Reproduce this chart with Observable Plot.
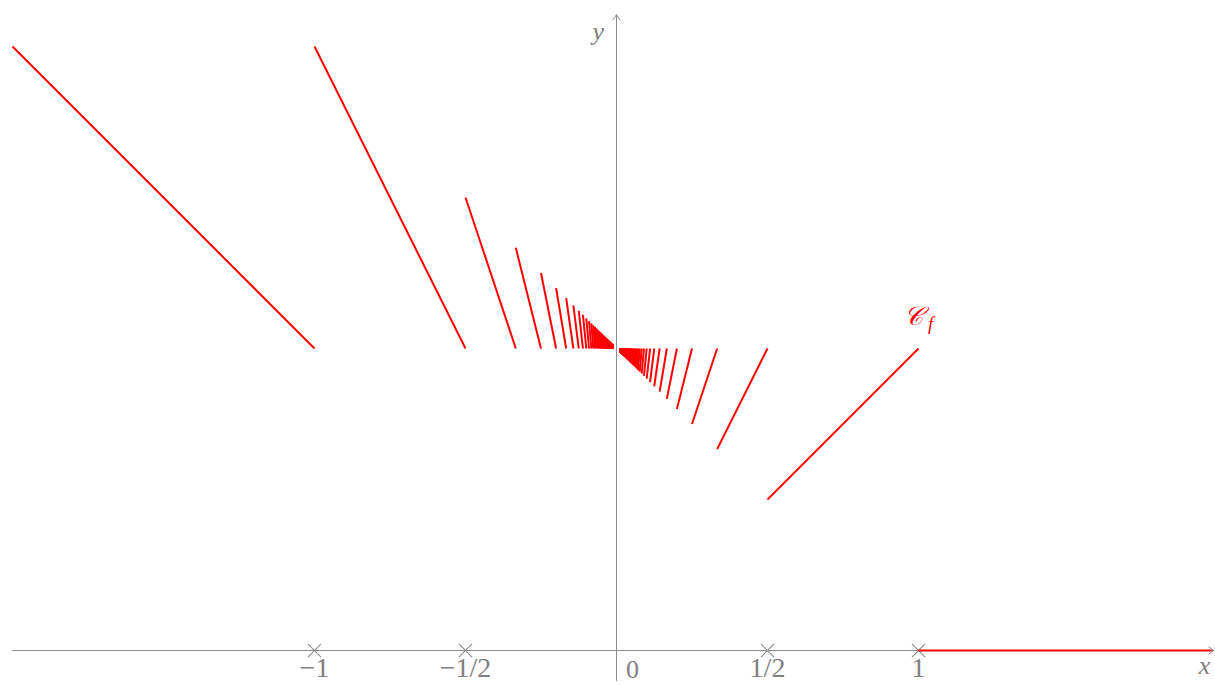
<!DOCTYPE html>
<html>
<head>
<meta charset="utf-8">
<script src="https://cdn.jsdelivr.net/npm/d3@7"></script>
<script src="https://cdn.jsdelivr.net/npm/@observablehq/plot@0.6"></script>
<style>
  html, body { margin: 0; padding: 0; background: #fff; }
  #chart svg { display: block; }
</style>
</head>
<body>
<div id="chart"></div>
<script>
// Denominators n of the breakpoints ±1/n of f(x) = x·⌊1/x⌋ (as many as drawn in the picture)
const denominators = [1,2,3,4,5,6,7,8,9,10,11,12,13,14,15,16,17,18,19,20,
  21,22,23,24,25,26,27,28,29,30,31,32,33,34,35,36,37,38,39,40,
  41,42,43,44,45,46,47,48,49,50,51,52,53,54,55,56,57,58,59,60,
  61,62,63,64,65,66,67,68,69,70,71,72,73,74,75,76,77,78,79,80];
// Outer pieces
const leftPiece = {x1: -2, y1: 2, x2: -1, y2: 1};
const rightPiece = {x1: 1, y1: 0, x2: 1.97, y2: 0};
// Axis ticks
const tickValues = [-1, -0.5, 0.5, 1];
const tickLabels = ["\u22121", "\u22121/2", "1/2", "1"];
// Axis extents
const xAxisExtent = [-2, 1.978];
const yAxisExtent = [-0.1, 2.105];

const segments = [leftPiece, rightPiece];
for (const n of denominators) {
  // negative side: on (-1/n, -1/(n+1)], f(x) = -(n+1)·x
  const a = -1 / n, b = -1 / (n + 1);
  segments.push({x1: a, y1: -(n + 1) * a, x2: b, y2: -(n + 1) * b});
  // positive side: on (1/(n+1), 1/n], f(x) = n·x
  const c = 1 / (n + 1), d = 1 / n;
  segments.push({x1: c, y1: n * c, x2: d, y2: n * d});
}

const gray = "#8c8c8c";
const textGray = "#808080";
const serif = "'Liberation Serif', 'DejaVu Serif', serif";

const plot = Plot.plot({
  width: 1215,
  height: 685,
  margin: 0,
  x: {domain: [-2, 2], range: [12, 1220], axis: null},
  y: {domain: [0, 2], range: [650, 46], axis: null},
  style: {background: "#fff", overflow: "visible"},
  marks: [
    // axes
    Plot.arrow([0], {x1: xAxisExtent[0], y1: 0, x2: xAxisExtent[1], y2: 0, stroke: gray, strokeWidth: 1, headLength: 9, headAngle: 70}),
    Plot.arrow([0], {x1: 0, y1: yAxisExtent[0], x2: 0, y2: yAxisExtent[1], stroke: gray, strokeWidth: 1, headLength: 9, headAngle: 70}),
    Plot.dot(tickValues, {x: d => d, y: 0, symbol: "times", r: 6, stroke: gray, strokeWidth: 1.1}),
    Plot.text(tickValues, {x: d => d, y: 0, text: (d, i) => tickLabels[i], dy: 18, fill: textGray,
      fontSize: 28, fontFamily: serif, textAnchor: "middle"}),
    Plot.text([0], {x: d => d, y: 0, text: () => "0", dx: 16, dy: 19, fill: textGray,
      fontSize: 26, fontFamily: serif, textAnchor: "middle"}),
    Plot.text(["x"], {x: 1.947, y: 0, text: d => d, dy: 15, fill: textGray, fontSize: 26,
      fontFamily: serif, fontStyle: "italic", textAnchor: "middle"}),
    Plot.text(["y"], {x: -0.06, y: 2.05, text: d => d, fill: textGray, fontSize: 26,
      fontFamily: serif, fontStyle: "italic", textAnchor: "middle"}),
    // graph
    Plot.link(segments, {x1: "x1", y1: "y1", x2: "x2", y2: "y2", stroke: "#ff0000", strokeWidth: 2}),
    // curve label
    Plot.text(["\u{1D49E}"], {x: 0.982, y: 1.105, text: d => d, fill: "#ff0000", fontSize: 26,
      fontFamily: "'DejaVu Serif', 'DejaVu Sans', serif", fontStyle: "italic", textAnchor: "middle"}),
    Plot.text(["f"], {x: 1.04, y: 1.08, text: d => d, fill: "#ff0000", fontSize: 19,
      fontFamily: serif, fontStyle: "italic", textAnchor: "middle"})
  ]
});
document.getElementById("chart").appendChild(plot);
</script>
</body>
</html>
